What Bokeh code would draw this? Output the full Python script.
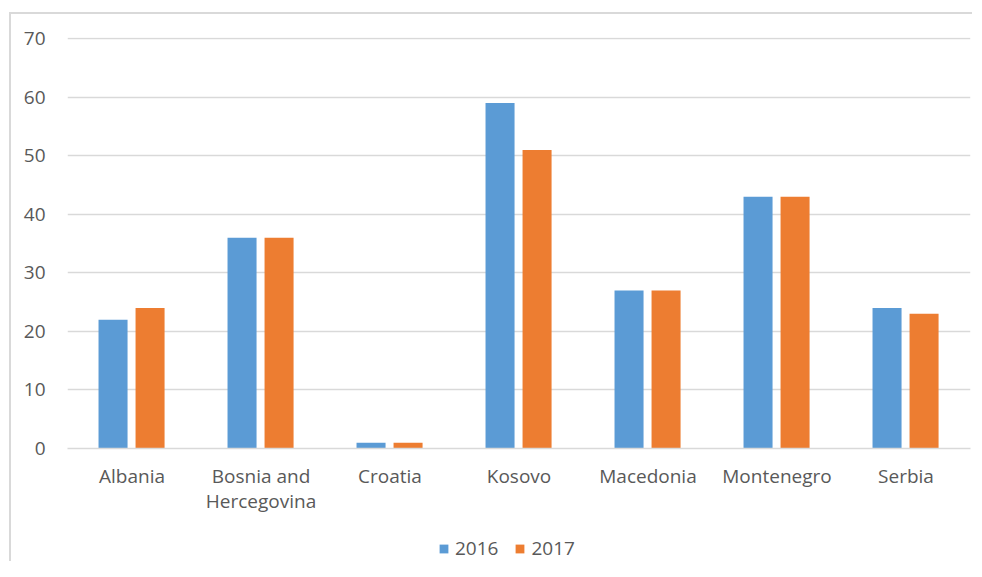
from bokeh.plotting import figure
from bokeh.models import FactorRange, ColumnDataSource, Legend, LegendItem, Range1d
from bokeh.layouts import column
from bokeh.transform import dodge
from bokeh.embed import file_html
from bokeh.resources import INLINE

countries = ["Albania", "Bosnia and\nHercegovina", "Croatia", "Kosovo", "Macedonia", "Montenegro", "Serbia"]
v2016 = [22, 36, 1, 59, 27, 43, 24]
v2017 = [24, 36, 1, 51, 27, 43, 23]
series = ["2016", "2017"]
yticks = [0, 10, 20, 30, 40, 50, 60, 70]

FONT = "Open Sans"
FS = "19px"
TXT = "#595959"
GRID = "#d9d9d9"
C16 = "#5B9BD5"
C17 = "#ED7D31"

src = ColumnDataSource(dict(c=countries, a=v2016, b=v2017))

p = figure(width=974, height=529, x_range=FactorRange(*countries, range_padding=0),
           y_range=Range1d(0, 70.2), output_backend="svg", toolbar_location=None,
           min_border_left=67, min_border_right=4, min_border_top=37, min_border_bottom=81)
p.outline_line_color = None
p.stylesheets = [
    ":host { position: relative; }"
    ":host::after { content: ''; position: absolute; left: 9px; top: 12px; right: 2px; bottom: 0px;"
    " border-left: 2px solid #d9d9d9; border-top: 2px solid #d9d9d9; pointer-events: none; }"
]

p.vbar(x=dodge("c", -0.147, range=p.x_range), top="a", width=0.225, source=src,
       fill_color=C16, line_color=None)
p.vbar(x=dodge("c", 0.14, range=p.x_range), top="b", width=0.225, source=src,
       fill_color=C17, line_color=None)

p.yaxis.ticker = yticks
p.yaxis.axis_line_color = None
p.yaxis.major_tick_line_color = None
p.yaxis.minor_tick_line_color = None
p.yaxis.major_label_text_font = FONT
p.yaxis.major_label_text_font_size = FS
p.yaxis.major_label_text_color = TXT
p.yaxis.major_label_standoff = 16

p.xaxis.axis_line_color = GRID
p.xaxis.axis_line_width = 1.5
p.xaxis.major_tick_line_color = None
p.xaxis.minor_tick_line_color = None
p.xaxis.major_label_text_font = FONT
p.xaxis.major_label_text_font_size = FS
p.xaxis.major_label_text_color = TXT
p.xaxis.major_label_text_line_height = 0.97
p.xaxis.major_label_standoff = 8

p.xgrid.grid_line_color = None
p.ygrid.grid_line_color = GRID
p.ygrid.grid_line_width = 1.5
p.ygrid.ticker = yticks

# legend strip
lg = figure(width=974, height=32, x_range=Range1d(0, 1), y_range=Range1d(0, 1),
            x_axis_type=None, y_axis_type=None, output_backend="svg", toolbar_location=None,
            min_border_left=0, min_border_right=0, min_border_top=0, min_border_bottom=0)
lg.outline_line_color = None
lg.xgrid.grid_line_color = None
lg.ygrid.grid_line_color = None
lg.stylesheets = [
    ":host { position: relative; }"
    ":host::after { content: ''; position: absolute; left: 9px; top: 0px; right: 2px; bottom: 0px;"
    " border-left: 2px solid #d9d9d9; pointer-events: none; }"
]
d1 = lg.vbar(x=[0.5], top=[0], bottom=[0], width=0.01, fill_color=C16, line_color=None)
d2 = lg.vbar(x=[0.5], top=[0], bottom=[0], width=0.01, fill_color=C17, line_color=None)
legend = Legend(items=[LegendItem(label=series[0], renderers=[d1]),
                       LegendItem(label=series[1], renderers=[d2])],
                orientation="horizontal", location=(371, 0),
                glyph_width=11, glyph_height=11, label_text_font=FONT,
                label_text_font_size=FS, label_text_color=TXT,
                padding=0, margin=0, spacing=16, label_standoff=6,
                border_line_color=None, background_fill_alpha=0)
lg.add_layout(legend)

layout = column(p, lg, spacing=0)

open("out.html", "w").write(file_html(layout, INLINE))
